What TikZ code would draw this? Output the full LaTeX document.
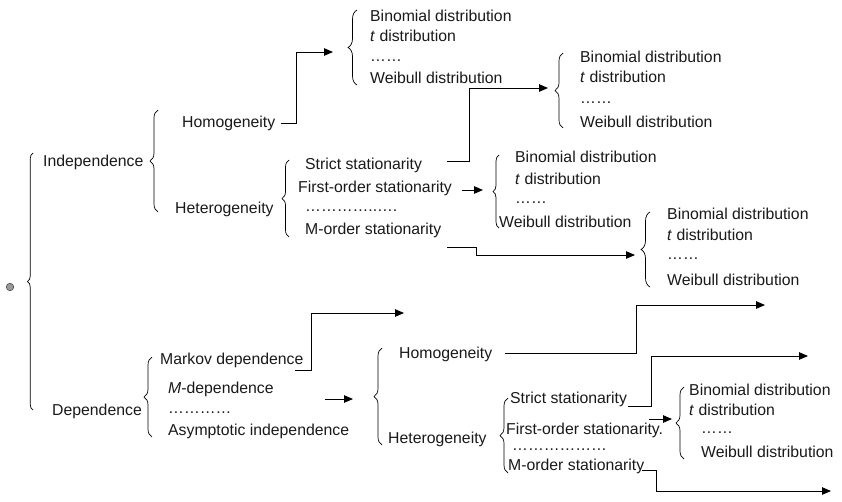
\documentclass[tikz,border=0pt]{standalone}
\usepackage{fontspec}
\setmainfont{Liberation Sans}
\usetikzlibrary{decorations.pathreplacing,arrows.meta}

\begin{document}
\begin{tikzpicture}[x=1pt,y=-1pt,
  lbl/.style={anchor=west,inner sep=0pt,text height=11.3pt,text depth=0pt,
              font=\fontsize{15.8}{19}\selectfont,text=black!90},
  dts/.style={anchor=base west,inner sep=0pt,text height=2pt,text depth=0pt,
              font=\fontsize{15.8}{19}\selectfont,text=black!90},
  brc/.style={decorate,decoration={brace,amplitude=#1},line width=0.7pt},
  brc/.default=8pt,
  arr/.style={line width=0.9pt,-{Triangle[length=9pt,width=7.5pt]}},
]
\useasboundingbox (0,0) rectangle (842,501);

% root marker
\node[circle,draw=black!70,fill=black!40,minimum size=7.5pt,inner sep=0pt,line width=0.6pt] (root) at (10,287) {};

% ---------- independence branch ----------
\node[lbl] (ind) at (43,161) {Independence};
\node[lbl] (hom1) at (182,122) {Homogeneity};
\node[lbl] (het1) at (175,208) {Heterogeneity};

\node[lbl] (s1) at (305,164) {Strict stationarity};
\node[lbl] (f1) at (298,187) {First-order stationarity};
\node[dts] (o1) at (305,211) {…………..….};
\node[lbl] (m1) at (305,229) {M-order stationarity};

% distribution lists
\node[lbl] (a1) at (370,16) {Binomial distribution};
\node[lbl] (a2) at (370,36) {\textit{t} distribution};
\node[dts] (a3) at (370,61) {……};
\node[lbl] (a4) at (370,78) {Weibull distribution};

\node[lbl] (b1) at (580,57) {Binomial distribution};
\node[lbl] (b2) at (580,77) {\textit{t} distribution};
\node[dts] (b3) at (580,103) {……};
\node[lbl] (b4) at (580,122) {Weibull distribution};

\node[lbl] (c1) at (515,157) {Binomial distribution};
\node[lbl] (c2) at (515,179) {\textit{t} distribution};
\node[dts] (c3) at (515,203) {……};
\node[lbl] (c4) at (499,222) {Weibull distribution};

\node[lbl] (d1) at (667,214) {Binomial distribution};
\node[lbl] (d2) at (667,235) {\textit{t} distribution};
\node[dts] (d3) at (667,259) {……};
\node[lbl] (d4) at (667,280) {Weibull distribution};

% ---------- dependence branch ----------
\node[lbl] (dep) at (52,410) {Dependence};
\node[lbl] (mk) at (160,359) {Markov dependence};
\node[lbl] (md) at (168,388) {\textit{M}-dependence};
\node[dts] (dd) at (168,413) {…………};
\node[lbl] (ai) at (168,430) {Asymptotic independence};

\node[lbl] (hom2) at (399,353) {Homogeneity};
\node[lbl] (het2) at (388,438) {Heterogeneity};

\node[lbl] (s2) at (510,398) {Strict stationarity};
\node[lbl] (f2) at (506,429) {First-order stationarity.};
\node[dts] (o2) at (512,450) {………………};
\node[lbl] (m2) at (508,465) {M-order stationarity};

\node[lbl] (e1) at (689,390) {Binomial distribution};
\node[lbl] (e2) at (689,410) {\textit{t} distribution};
\node[dts] (e3) at (701,433) {……};
\node[lbl] (e4) at (701,452) {Weibull distribution};

% ---------- braces (drawn bottom to top, tip on the left) ----------
\draw[brc=5.5pt] (33,410) -- (33,153);
\draw[brc=8pt] (158,212) -- (158,110);
\draw[brc=7pt] (289,237) -- (289,160);
\draw[brc=9pt] (357,85) -- (357,10);
\draw[brc=8pt] (563,128) -- (563,53);
\draw[brc=6pt] (499,228) -- (499,155);
\draw[brc=9pt] (650,287) -- (650,212);
\draw[brc=8pt] (152,437) -- (152,357);
\draw[brc=8pt] (382,445) -- (382,348);
\draw[brc=8pt] (508,473) -- (508,398);
\draw[brc=8pt] (684,459) -- (684,387);

% ---------- connector end points ----------
\coordinate (hom1-out) at (281,123);
\coordinate (hom1-tip) at (333,52);
\coordinate (s1-out) at (447,161);
\coordinate (s1-tip) at (548,88);
\coordinate (f1-out) at (462,190);
\coordinate (f1-tip) at (483,190);
\coordinate (m1-out) at (447,247);
\coordinate (m1-tip) at (635,255);
\coordinate (mk-out) at (295,370);
\coordinate (mk-tip) at (404,313);
\coordinate (dep-out) at (325,399);
\coordinate (dep-tip) at (353,399);
\coordinate (hom2-out) at (505,353);
\coordinate (hom2-tip) at (765,305);
\coordinate (s2-out) at (628,406);
\coordinate (s2-tip) at (808,356);
\coordinate (f2-out) at (649,419);
\coordinate (f2-tip) at (672,419);
\coordinate (m2-out) at (642,470);
\coordinate (m2-tip) at (831,491);

% ---------- connectors ----------
\draw[arr] (hom1-out) -- (296,123) |- (hom1-tip);
\draw[arr] (s1-out) -- (469,161) |- (s1-tip);
\draw[arr] (f1-out) -- (f1-tip);
\draw[arr] (m1-out) -- (476,247) |- (m1-tip);
\draw[arr] (mk-out) -- (311,370) |- (mk-tip);
\draw[arr] (dep-out) -- (dep-tip);
\draw[arr] (hom2-out) -- (636,353) |- (hom2-tip);
\draw[arr] (s2-out) -- (651,406) |- (s2-tip);
\draw[arr] (f2-out) -- (f2-tip);
\draw[arr] (m2-out) -- (656,470) |- (m2-tip);
\end{tikzpicture}
\end{document}
